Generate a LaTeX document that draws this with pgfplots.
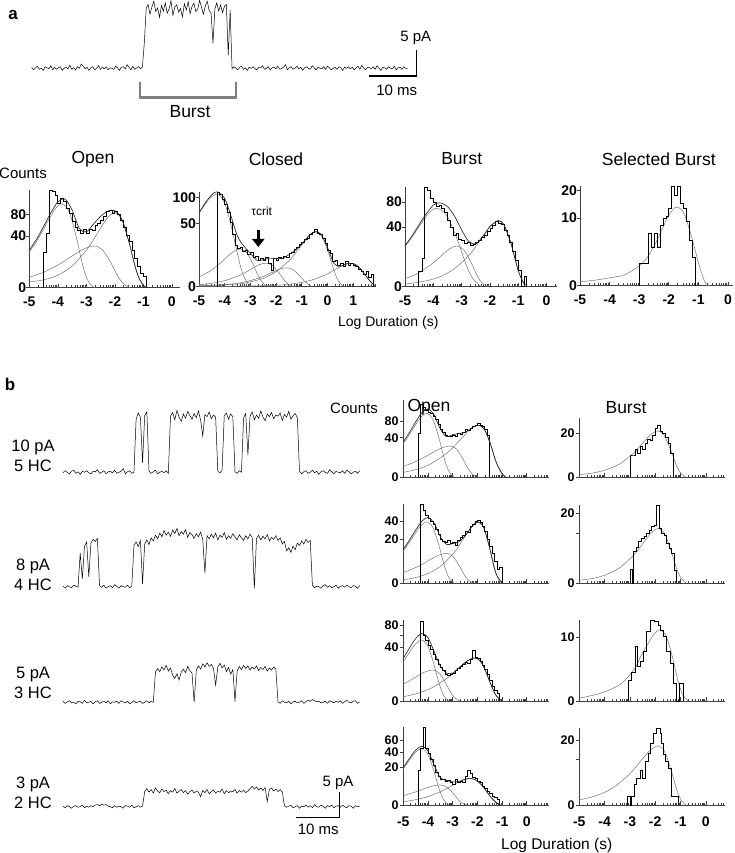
\documentclass[border=0pt]{standalone}
\usepackage{pgfplots}
\pgfplotsset{compat=1.18}
\usepackage{fontspec}
\setmainfont{Liberation Sans}
\usetikzlibrary{arrows.meta}
\newcommand\fs[1]{\fontsize{#1}{#1}\selectfont}
\pgfplotsset{
 hax/.style={scale only axis, axis lines=left, axis line style={-,black!75,line width=0.8pt},
  clip=false, ymin=0, xmin=-5,
  y coord trafo/.code={\pgfmathparse{sqrt(##1)}},
  y coord inv trafo/.code={\pgfmathparse{(##1)^2}},
  xtick={-5,-4,-3,-2,-1,0,1}, xticklabels={-5,-4,-3,-2,-1,0,1},
  minor xtick={-4.699,-4.523,-4.398,-4.301,-4.222,-4.155,-4.097,-4.046,-3.699,-3.523,-3.398,-3.301,-3.222,-3.155,-3.097,-3.046,-2.699,-2.523,-2.398,-2.301,-2.222,-2.155,-2.097,-2.046,-1.699,-1.523,-1.398,-1.301,-1.222,-1.155,-1.097,-1.046,-0.699,-0.523,-0.398,-0.301,-0.222,-0.155,-0.097,-0.046,0.301,0.477,0.602,0.699,0.778,0.845,0.903,0.954,1.301,1.477,1.602,1.699,1.778,1.845},
  xtick align=inside, ytick align=outside,
  major tick length=3.5pt, minor tick length=2.2pt,
  tick style={black!75,line width=0.6pt},
  ticklabel style={font=\fs{14}\bfseries},
  xticklabel style={yshift=-5.5pt}, yticklabel style={xshift=4pt},
  anchor=south west},
 bcol/.style={yticklabel style={font=\fs{12.5}\bfseries, inner sep=1pt, xshift=-4pt}},
 nolab/.style={xticklabels={,,,,,,}},
 fit/.style={smooth, black!55, line width=0.5pt},
 tot/.style={smooth, black!85, line width=0.65pt},
 hst/.style={const plot, black, line width=0.65pt},
 trc/.style={scale only axis, hide axis, clip=false, xmin=0, ymin=-2, anchor=south west},
}
\begin{document}
\begin{tikzpicture}[x=1pt,y=1pt]
\path[use as bounding box] (0,0) rectangle (734,853);

% ---------------- panel a trace
\begin{axis}[trc, at={(31.7pt,774.3pt)}, width=375.9pt, height=83.2pt, xmax=78.8, ymax=14]
\addplot[black, line width=0.5pt] table[header=false, row sep=\\, x expr=\coordindex*0.4, y index=0] {
0.2\\-0.3\\0.1\\0.4\\-0.2\\0.0\\-0.4\\0.3\\0.1\\-0.1\\0.5\\-0.3\\0.2\\-0.2\\0.1\\0.3\\-0.4\\0.0\\0.2\\-0.1\\0.6\\-0.2\\0.1\\-0.3\\0.3\\0.0\\0.8\\0.4\\-0.1\\0.2\\-0.4\\0.1\\0.3\\-0.3\\0.0\\0.5\\-0.2\\0.2\\-0.1\\0.3\\-0.3\\0.1\\0.0\\-0.2\\0.4\\0.1\\-0.4\\0.2\\0.3\\-0.1\\0.7\\0.2\\-0.3\\0.4\\-0.2\\0.1\\0.3\\-0.1\\0.2\\
4.8\\
11.5\\12.3\\10.4\\11.8\\12.9\\10.9\\11.6\\9.8\\12.1\\11.0\\12.6\\10.6\\11.4\\13.0\\10.2\\11.8\\12.2\\10.8\\11.5\\9.9\\12.4\\11.2\\12.8\\10.5\\11.9\\12.5\\10.9\\11.3\\13.1\\11.7\\10.4\\12.0\\12.9\\11.1\\10.6\\4.8\\11.4\\12.6\\11.0\\12.2\\10.7\\11.9\\12.3\\2.5\\11.2\\
-0.1\\0.3\\0.0\\-0.3\\0.2\\0.4\\-0.2\\0.1\\-0.4\\0.2\\0.0\\0.3\\-0.1\\-0.3\\0.2\\0.1\\0.5\\-0.2\\0.0\\0.3\\-0.3\\0.1\\0.2\\-0.1\\0.4\\-0.2\\0.0\\0.2\\0.7\\-0.3\\0.1\\0.3\\-0.2\\0.0\\0.4\\-0.1\\0.2\\-0.4\\0.1\\0.3\\0.0\\-0.2\\0.5\\0.1\\-0.3\\0.2\\0.0\\-0.1\\0.3\\-0.2\\0.4\\0.1\\-0.3\\0.0\\0.2\\-0.2\\0.3\\0.1\\-0.4\\0.2\\0.0\\0.3\\-0.1\\0.2\\-0.3\\0.1\\0.4\\-0.2\\0.6\\0.0\\-0.3\\0.2\\0.1\\-0.1\\0.3\\-0.2\\0.5\\0.0\\-0.4\\0.2\\0.1\\-0.2\\0.3\\0.0\\-0.1\\0.4\\-0.3\\0.1\\0.2\\-0.2\\0.3\\0.0\\-0.1\\
};
\end{axis}
\node[font=\fs{17}\bfseries] at (13,838) {a};
\draw[line width=1.2pt] (369,777) -- (416.7,777) -- (416.7,803);
\node[font=\fs{15}] at (415.8,814.7) {5 pA};
\node[font=\fs{15}] at (396.7,763) {10 ms};
\draw[black!50, line width=2.5pt] (140,771.3) -- (140,755.7) -- (236,755.7) -- (236,771.3);
\node[font=\fs{17.5}] at (190,741.3) {Burst};

% ---------------- panel a histograms
\node[font=\fs{17.5}] at (93,694) {Open};
\node[font=\fs{17.5}] at (276,694) {Closed};
\node[font=\fs{17.5}] at (461.7,694) {Burst};
\node[font=\fs{17.5}] at (658.8,694) {Selected Burst};
\node[font=\fs{15}] at (23,680) {Counts};
\node[font=\fs{14}] at (388.3,530.3) {Log Duration (s)};

\begin{axis}[hax, at={(29.3pt,565.3pt)}, width=150.8pt, height=97.7pt, xmax=0.29, ymax=142, ytick={0,40,80}, yticklabels={0,40,80}]
\addplot[fit] coordinates {(-5,18.9)(-4.85,25.8)(-4.6,42.5)(-4.35,65.7)(-4.1,91.5)(-3.85,105)(-3.6,85.8)(-3.35,38.2)(-3.225,17.7)(-3.1,5.8)(-2.975,1.2)(-2.85,0.13)(-2.7,0)};
\addplot[fit] coordinates {(-5,1.6)(-4.82,2.2)(-4.47,3.7)(-4.12,6.4)(-3.77,10.5)(-3.42,16.3)(-3.07,22.6)(-2.72,26)(-2.43,21.2)(-2.145,9.5)(-2.0,4.4)(-1.86,1.4)(-1.71,0.3)(-1.57,0.03)(-1.45,0)};
\addplot[fit] coordinates {(-5,0.5)(-4.5,0.9)(-4,2.3)(-3.5,7.0)(-3,20.7)(-2.75,34)(-2.5,52.6)(-2.25,73.2)(-2,84)(-1.75,68.6)(-1.5,30.6)(-1.375,14.2)(-1.25,4.6)(-1.125,0.95)(-1.0,0.1)(-0.9,0)};
\addplot[hst] coordinates {(-4.5,0)(-4.5,19)(-4.4,44)(-4.3,142)(-4.2,137)(-4.1,128)(-4.0,106)(-3.9,119)(-3.8,110)(-3.7,94)(-3.6,82)(-3.5,65)(-3.4,55)(-3.3,49.5)(-3.2,44)(-3.1,50.7)(-3.0,44)(-2.9,50)(-2.8,49)(-2.7,58)(-2.6,62)(-2.5,68)(-2.4,75)(-2.3,86)(-2.2,90)(-2.1,82)(-2.0,86)(-1.9,79)(-1.8,68)(-1.7,55)(-1.6,41)(-1.5,31.5)(-1.4,21)(-1.3,12.9)(-1.2,6.6)(-1.1,3.1)(-1.0,2)(-0.9,0)};
\addplot[tot] coordinates {(-5,21.0)(-4.75,34.6)(-4.5,55.7)(-4.25,82.9)(-4.0,109.2)(-3.75,116.9)(-3.5,90)(-3.25,52.7)(-3.0,46.3)(-2.75,60)(-2.5,75.7)(-2.25,87)(-2.0,88.4)(-1.75,69.1)(-1.5,30.6)(-1.375,14.2)(-1.25,4.6)(-1.125,0.95)(-1.0,0.1)(-0.9,0)};
\end{axis}

\begin{axis}[hax, at={(199pt,566.3pt)}, width=176pt, height=95pt, xmax=1.85, ymax=113.9, ytick={0,50,100}, yticklabels={0,50,100}]
\addplot[fit] coordinates {(-5,67.6)(-4.65,94)(-4.3,108)(-4.0,88.2)(-3.7,39.3)(-3.55,18.2)(-3.4,6.0)(-3.25,1.25)(-3.1,0.13)(-2.95,0)};
\addplot[fit] coordinates {(-5,1.2)(-4.65,2.6)(-4.4,4.4)(-4.15,7.3)(-3.9,11.3)(-3.65,15.7)(-3.4,18)(-3.15,14.7)(-2.9,6.6)(-2.775,3.0)(-2.65,1.0)(-2.525,0.2)(-2.4,0.02)(-2.3,0)};
\addplot[fit] coordinates {(-5,0.05)(-4.4,0.19)(-3.9,0.58)(-3.4,1.7)(-3.15,2.8)(-2.9,4.4)(-2.65,6.1)(-2.4,7)(-2.15,5.7)(-1.9,2.5)(-1.775,1.2)(-1.65,0.39)(-1.525,0.08)(-1.4,0.01)(-1.3,0)};
\addplot[fit] coordinates {(-5,0.01)(-4.1,0.04)(-3.6,0.12)(-3.1,0.37)(-2.6,1.1)(-2.35,1.8)(-2.1,2.8)(-1.85,3.9)(-1.6,4.5)(-1.35,3.7)(-1.1,1.6)(-0.975,0.76)(-0.85,0.25)(-0.725,0.05)(-0.6,0)};
\addplot[fit] coordinates {(-5,0.01)(-3.45,0.1)(-2.95,0.33)(-2.45,1.0)(-1.95,3.2)(-1.45,9.3)(-1.2,15.4)(-0.95,23.8)(-0.7,33.1)(-0.45,38)(-0.2,31)(0.05,13.8)(0.175,6.4)(0.3,2.1)(0.425,0.43)(0.55,0.05)(0.65,0)};
\addplot[fit] coordinates {(-5,0)(-2.1,0.02)(-1.1,0.19)(-0.6,0.58)(-0.1,1.7)(0.15,2.8)(0.4,4.4)(0.65,6.1)(0.9,7)(1.15,5.7)(1.4,2.5)(1.525,1.2)(1.65,0.39)(1.775,0.08)(1.85,0.02)};
\addplot[hst] coordinates {(-4.3,0)(-4.3,113)(-4.2,108)(-4.1,96)(-4.0,85)(-3.9,70)(-3.8,52)(-3.7,35)(-3.6,22)(-3.5,19)(-3.4,20)(-3.3,16)(-3.2,17)(-3.1,13)(-3.0,15)(-2.9,11)(-2.8,12)(-2.7,9)(-2.6,10)(-2.5,8.5)(-2.4,11)(-2.3,7)(-2.2,3.5)(-2.1,10)(-2.0,9)(-1.9,11)(-1.8,10)(-1.7,12)(-1.6,11)(-1.5,14)(-1.4,15)(-1.3,18)(-1.2,20)(-1.1,23)(-1.0,25)(-0.9,28)(-0.8,30)(-0.7,35)(-0.6,37)(-0.5,41)(-0.4,36)(-0.3,34)(-0.2,30)(-0.1,24)(0.0,17)(0.1,14)(0.2,8)(0.3,9)(0.4,6)(0.5,7)(0.6,5)(0.7,8)(0.8,6)(0.9,7)(1.0,6)(1.1,5)(1.2,4)(1.3,3)(1.4,2)(1.5,3)(1.6,1)(1.7,2)(1.8,0)};
\addplot[tot] coordinates {(-5,68.9)(-4.75,89.1)(-4.5,106.8)(-4.3,113.6)(-4.0,98.3)(-3.75,62.2)(-3.5,32.1)(-3.25,20.6)(-3.0,14.2)(-2.75,8.8)(-2.5,9.2)(-2.25,10.3)(-2.0,10)(-1.75,10.2)(-1.5,12.9)(-1.25,16.9)(-1.0,22.9)(-0.75,31.9)(-0.5,38.3)(-0.25,34.9)(0,19.6)(0.25,6.8)(0.5,5.2)(0.75,6.6)(1.0,6.8)(1.25,4.5)(1.5,1.4)(1.75,0.13)(1.85,0.02)};
\end{axis}
\node[font=\fs{12}] at (261.7,641.3) {τcrit};
\draw[-{Triangle[width=12pt,length=8pt]}, line width=3.5pt] (258.3,623) -- (258.3,606);

\begin{axis}[hax, at={(405pt,566.3pt)}, width=151.7pt, height=99.4pt, xmax=0.36, ymax=110.6, ytick={0,40,80}, yticklabels={0,40,80}]
\addplot[fit] coordinates {(-5,17.9)(-4.74,28)(-4.455,43.2)(-4.17,60.1)(-3.88,69)(-3.52,56.4)(-3.155,25.1)(-2.97,11.7)(-2.79,3.8)(-2.61,0.78)(-2.43,0.08)(-2.3,0)};
\addplot[fit] coordinates {(-5,0.72)(-4.67,1.5)(-4.42,2.7)(-4.17,4.6)(-3.92,7.5)(-3.67,11.6)(-3.42,16.1)(-3.17,18.5)(-2.92,15.1)(-2.67,6.7)(-2.545,3.1)(-2.42,1.0)(-2.295,0.2)(-2.17,0.02)(-2.05,0)};
\addplot[fit] coordinates {(-5,0.07)(-4.2,0.42)(-3.7,1.3)(-3.2,4.1)(-2.7,12)(-2.45,19.8)(-2.2,30.5)(-1.95,42.5)(-1.7,48.8)(-1.46,39.9)(-1.225,17.8)(-1.11,8.2)(-0.99,2.7)(-0.87,0.55)(-0.75,0.06)(-0.65,0)};
\addplot[hst] coordinates {(-4.53,0)(-4.53,2.5)(-4.4,9)(-4.3,110)(-4.2,105)(-4.1,88)(-4.0,80)(-3.9,72)(-3.8,74)(-3.7,68)(-3.6,62)(-3.5,50)(-3.4,40)(-3.3,30)(-3.2,32)(-3.1,25)(-3.0,24)(-2.9,21)(-2.8,22)(-2.7,19)(-2.6,20)(-2.5,22)(-2.4,24)(-2.3,27)(-2.2,30)(-2.1,34)(-2.0,38)(-1.9,42)(-1.8,48)(-1.7,45)(-1.6,44)(-1.5,36)(-1.4,30)(-1.3,22)(-1.2,14)(-1.1,8)(-1.0,3)(-0.9,0)(-0.8,1.1)(-0.7,0)};
\addplot[tot] coordinates {(-5,18.7)(-4.75,29)(-4.5,43.2)(-4.25,59.6)(-4.0,74.5)(-3.88,78)(-3.75,78.7)(-3.5,72.1)(-3.25,55.6)(-3.0,36.2)(-2.75,22.9)(-2.5,20.5)(-2.25,28.4)(-2.0,40.3)(-1.7,48.8)(-1.5,42.5)(-1.25,20.5)(-1.0,2.9)(-0.85,0.4)(-0.75,0)};
\end{axis}

\begin{axis}[hax, at={(580pt,567.3pt)}, width=153pt, height=99.7pt, xmax=0.17, ymax=21.8, ytick={0,10,20}, yticklabels={0,10,20}]
\addplot[fit] coordinates {(-5,0.034)(-4.5,0.066)(-4,0.135)(-3.5,0.26)(-3,0.84)(-2.75,1.65)(-2.5,3.4)(-2.25,6.6)(-2.0,10.9)(-1.75,13.5)(-1.5,11.7)(-1.25,5.7)(-1.0,1.2)(-0.85,0.19)(-0.75,0.012)(-0.6,0)};
\addplot[hst] coordinates {(-3.0,0)(-3.0,1.1)(-2.7,6)(-2.6,3.3)(-2.5,6)(-2.4,3.3)(-2.3,8)(-2.2,10)(-2.1,10.5)(-2.0,13)(-1.9,21.5)(-1.8,18)(-1.7,21.5)(-1.6,15)(-1.5,13)(-1.4,9)(-1.3,4.5)(-1.2,1.8)(-1.1,0)};
\end{axis}

% ---------------- panel b traces
\node[font=\fs{17}\bfseries] at (10,469) {b};
\node[font=\fs{15}] at (354,445) {Counts};
\node[font=\fs{17.5}] at (429,446) {Open};
\node[font=\fs{17.5}] at (626,445) {Burst};
\node[font=\fontsize{16.5}{20}\selectfont, align=center] at (33,397) {10 pA\\5 HC};
\node[font=\fontsize{16.5}{20}\selectfont, align=center] at (33,278.5) {8 pA\\4 HC};
\node[font=\fontsize{16.5}{20}\selectfont, align=center] at (33,169.7) {5 pA\\3 HC};
\node[font=\fontsize{16.5}{20}\selectfont, align=center] at (33,59.7) {3 pA\\2 HC};

\begin{axis}[trc, at={(63pt,370.3pt)}, width=296.7pt, height=72.8pt, xmax=69, ymax=12]
\addplot[black, line width=0.5pt] table[header=false, row sep=\\, x expr=\coordindex*0.5, y index=0] {
-0.1\\0.3\\0.0\\-0.3\\0.2\\0.4\\-0.2\\0.1\\-0.4\\0.2\\0.0\\0.3\\-0.1\\-0.3\\0.2\\0.1\\0.5\\-0.2\\0.0\\0.3\\-0.3\\0.1\\0.2\\-0.1\\0.4\\-0.2\\0.0\\0.2\\0.7\\-0.3\\0.1\\0.3\\-0.2\\0.0\\
10.2\\11.4\\10.6\\1.8\\10.9\\11.6\\
0.3\\-0.2\\0.1\\0.4\\-0.3\\0.0\\0.2\\-0.1\\0.3\\-0.2\\
10.8\\11.5\\10.1\\11.9\\10.6\\9.8\\11.2\\10.4\\11.7\\10.9\\10.2\\11.3\\10.5\\11.8\\10.0\\7.0\\11.1\\10.7\\11.6\\10.3\\11.0\\10.6\\
0.2\\-0.1\\0.4\\
10.9\\11.4\\10.2\\11.2\\10.7\\
0.1\\-0.2\\0.3\\0.0\\
10.5\\11.3\\3.3\\10.8\\11.6\\10.1\\11.0\\10.4\\11.8\\10.6\\9.9\\11.2\\10.7\\11.5\\10.3\\11.0\\10.8\\11.4\\10.0\\11.1\\10.6\\11.7\\10.2\\10.9\\11.3\\10.5\\
0.2\\-0.3\\0.1\\0.3\\-0.2\\0.0\\0.4\\-0.1\\0.2\\-0.4\\0.1\\0.3\\0.0\\-0.2\\0.5\\0.1\\-0.3\\0.2\\0.0\\-0.1\\0.3\\-0.2\\0.4\\0.1\\-0.3\\0.0\\0.2\\-0.2\\0.3\\
};
\end{axis}

\begin{axis}[trc, at={(63pt,255.9pt)}, width=296.7pt, height=72.8pt, xmax=69, ymax=12]
\addplot[black, line width=0.5pt] table[header=false, row sep=\\, x expr=\coordindex*0.5, y index=0] {
0.1\\-0.3\\0.2\\0.0\\-0.2\\0.3\\0.1\\-0.1\\
6.5\\1.5\\7.8\\8.6\\1.9\\8.4\\9.1\\8.7\\9.3\\
0.2\\-0.1\\0.3\\-0.3\\0.0\\0.2\\-0.2\\0.4\\0.1\\-0.3\\0.2\\0.0\\-0.1\\0.3\\-0.2\\0.1\\
8.0\\8.6\\7.7\\8.9\\0.5\\8.2\\9.0\\8.1\\9.4\\8.8\\
9.9\\9.2\\10.3\\9.6\\10.8\\9.9\\10.5\\9.7\\10.9\\10.2\\
11.2\\9.8\\10.6\\10.1\\11.0\\9.5\\10.4\\10.0\\9.3\\10.2\\
9.6\\10.5\\9.1\\2.6\\9.8\\9.2\\10.1\\9.4\\10.3\\9.0\\
9.9\\9.5\\10.4\\9.1\\9.8\\9.3\\10.2\\9.6\\9.0\\10.0\\
9.4\\8.9\\9.8\\9.2\\10.1\\9.5\\-0.3\\9.3\\9.9\\9.0\\
9.7\\9.2\\10.0\\8.8\\9.5\\9.1\\9.8\\8.9\\9.4\\8.2\\
8.7\\6.9\\7.5\\6.6\\7.8\\7.1\\8.4\\7.9\\8.8\\8.2\\
9.1\\8.5\\8.9\\
0.3\\-0.2\\0.1\\0.0\\-0.3\\0.2\\0.4\\-0.1\\0.2\\-0.2\\0.0\\0.3\\-0.3\\0.1\\0.2\\-0.1\\0.3\\0.0\\-0.2\\0.2\\0.1\\-0.3\\0.2\\
};
\end{axis}

\begin{axis}[trc, at={(63pt,140.3pt)}, width=296.7pt, height=72.8pt, xmax=69, ymax=12]
\addplot[black, line width=0.5pt] table[header=false, row sep=\\, x expr=\coordindex*0.5, y index=0] {
0.2\\-0.2\\0.1\\0.3\\-0.1\\0.0\\-0.3\\0.2\\0.1\\-0.2\\0.4\\-0.1\\0.0\\0.2\\-0.3\\0.1\\0.3\\-0.2\\0.0\\0.2\\-0.1\\0.3\\-0.3\\0.1\\0.0\\0.2\\-0.2\\0.3\\0.1\\-0.1\\0.2\\-0.3\\0.0\\0.3\\-0.1\\0.1\\0.2\\-0.2\\0.0\\0.3\\-0.1\\0.2\\0.0\\
5.8\\6.5\\5.9\\6.8\\6.2\\7.1\\6.0\\6.6\\5.2\\4.6\\
5.5\\4.3\\5.8\\6.4\\5.7\\6.9\\6.1\\5.6\\0.0\\6.2\\
7.0\\6.4\\7.4\\6.8\\7.6\\6.9\\7.3\\6.5\\3.3\\6.8\\
7.5\\6.6\\7.2\\5.9\\6.7\\5.4\\6.3\\0.2\\6.0\\6.9\\
6.3\\7.1\\6.5\\7.0\\6.2\\6.8\\6.4\\7.0\\6.1\\6.7\\
6.3\\6.9\\6.0\\6.6\\6.2\\6.8\\6.4\\
0.1\\-0.2\\0.3\\0.0\\-0.1\\0.2\\-0.3\\0.1\\0.2\\-0.1\\0.0\\0.3\\-0.2\\0.1\\0.4\\0.2\\0.5\\0.3\\0.1\\0.2\\-0.1\\0.0\\0.2\\-0.2\\0.3\\0.1\\-0.1\\0.2\\0.0\\0.3\\-0.2\\0.1\\0.4\\0.0\\-0.1\\0.2\\0.3\\-0.2\\0.1\\
};
\end{axis}

\begin{axis}[trc, at={(63pt,35.9pt)}, width=296.7pt, height=72.8pt, xmax=69, ymax=12]
\addplot[black, line width=0.5pt] table[header=false, row sep=\\, x expr=\coordindex*0.5, y index=0] {
0.1\\-0.2\\0.2\\0.0\\-0.3\\0.1\\0.2\\-0.1\\0.0\\0.3\\-0.2\\0.1\\-0.1\\0.2\\0.0\\0.3\\0.4\\0.2\\0.5\\0.3\\0.4\\0.1\\0.0\\-0.2\\0.2\\-0.1\\0.1\\0.0\\-0.3\\0.2\\0.1\\-0.1\\0.3\\-0.2\\0.0\\0.2\\-0.1\\0.1\\
2.9\\3.5\\2.8\\3.3\\2.6\\3.6\\3.0\\2.7\\3.4\\2.9\\
3.2\\2.5\\3.1\\2.8\\3.5\\2.6\\3.0\\3.3\\2.7\\3.1\\
2.4\\2.9\\3.2\\2.6\\3.0\\2.8\\1.9\\3.1\\2.7\\3.3\\
2.5\\2.9\\3.2\\2.6\\3.0\\2.8\\3.4\\2.5\\3.1\\2.7\\
3.0\\2.9\\3.3\\2.6\\3.1\\2.8\\3.2\\2.7\\3.0\\3.5\\
3.9\\3.4\\3.8\\3.2\\3.6\\3.1\\3.7\\1.0\\3.3\\3.6\\
3.0\\3.4\\2.9\\3.3\\2.8\\
0.2\\-0.1\\0.1\\0.3\\-0.2\\0.0\\0.2\\-0.3\\0.1\\0.0\\0.3\\-0.1\\0.2\\-0.2\\0.4\\0.0\\-0.1\\0.3\\0.1\\-0.3\\0.2\\0.0\\0.3\\-0.2\\0.1\\0.2\\-0.1\\0.3\\0.0\\-0.2\\0.2\\0.1\\-0.3\\0.2\\0.0\\0.1\\
};
\end{axis}
\draw[line width=1pt] (296,35.7) -- (339.3,35.7) -- (339.3,61.3);
\node[font=\fs{15}] at (338,69.7) {5 pA};
\node[font=\fs{15}] at (318.3,23.7) {10 ms};

% ---------------- panel b histograms: Open column
\begin{axis}[hax, bcol, nolab, at={(403.3pt,376pt)}, width=145.7pt, height=77pt, xmax=0.9, ymax=154, ytick={0,40,80}, yticklabels={0,40,80}]
\addplot[fit] coordinates {(-5,28.7)(-4.8,42.5)(-4.55,65.7)(-4.3,91.5)(-4.05,105)(-3.8,85.8)(-3.55,38.2)(-3.425,17.7)(-3.3,5.8)(-3.175,1.2)(-3.05,0.13)(-2.95,0)};
\addplot[fit] coordinates {(-5,2.8)(-4.5,6.2)(-4.15,10.1)(-3.8,15.7)(-3.45,21.8)(-3.1,25)(-2.85,20.4)(-2.6,9.1)(-2.475,4.2)(-2.35,1.4)(-2.225,0.28)(-2.1,0.03)(-2.0,0)};
\addplot[fit] coordinates {(-5,0.56)(-4.5,1.4)(-4.0,3.6)(-3.5,9.5)(-3.15,17.2)(-2.85,28.4)(-2.55,43.8)(-2.25,61)(-1.95,70)(-1.7,57.2)(-1.45,25.5)(-1.325,11.8)(-1.2,3.9)(-1.075,0.8)(-0.95,0.09)(-0.85,0)};
\addplot[hst] coordinates {(-4.4,0)(-4.4,50)(-4.3,139)(-4.2,125)(-4.1,118)(-4.0,110)(-3.9,104)(-3.8,95)(-3.7,85)(-3.6,72)(-3.5,60)(-3.4,52)(-3.3,45)(-3.2,43)(-3.1,42)(-3.0,46)(-2.9,44)(-2.8,50)(-2.7,48)(-2.6,52)(-2.5,58)(-2.4,56)(-2.3,62)(-2.2,66)(-2.1,70)(-2.0,74)(-1.9,70)(-1.8,66)(-1.7,58)(-1.6,45)(-1.5,0)};
\addplot[tot] coordinates {(-5,32.1)(-4.75,51.7)(-4.5,78.7)(-4.25,106.9)(-4.0,120.1)(-3.75,100)(-3.5,59.8)(-3.25,42)(-3.0,46.7)(-2.75,49.2)(-2.5,51.9)(-2.25,61.5)(-2.0,69.7)(-1.75,61.8)(-1.5,32.2)(-1.25,6.3)(-1.0,0.3)(-0.85,0)};
\end{axis}

\begin{axis}[hax, bcol, nolab, at={(403.3pt,270pt)}, width=145.7pt, height=79pt, xmax=0.9, ymax=65, ytick={0,20,40}, yticklabels={0,20,40}]
\addplot[fit] coordinates {(-5,10.6)(-4.8,15.8)(-4.55,24.4)(-4.3,34)(-4.05,39)(-3.8,31.9)(-3.55,14.2)(-3.425,6.6)(-3.3,2.1)(-3.175,0.44)(-3.05,0.05)(-2.95,0)};
\addplot[fit] coordinates {(-5,1.1)(-4.55,2.3)(-4.225,3.7)(-3.9,5.8)(-3.575,8.0)(-3.25,9.2)(-3.0,7.5)(-2.75,3.3)(-2.625,1.6)(-2.5,0.5)(-2.375,0.1)(-2.25,0.01)(-2.15,0)};
\addplot[fit] coordinates {(-5,0.1)(-4.45,0.34)(-3.95,1.05)(-3.45,3.2)(-2.95,9.6)(-2.7,15.8)(-2.45,24.4)(-2.2,34)(-1.95,39)(-1.74,31.9)(-1.525,14.2)(-1.42,6.6)(-1.31,2.1)(-1.2,0.44)(-1.1,0.05)(-1.0,0)};
\addplot[hst] coordinates {(-4.3,0)(-4.3,64)(-4.2,55)(-4.1,48)(-4.0,44)(-3.9,40)(-3.8,36)(-3.7,30)(-3.6,25)(-3.5,20)(-3.4,18)(-3.3,17)(-3.2,19)(-3.1,16)(-3.0,17)(-2.9,15)(-2.8,19)(-2.7,22)(-2.6,24)(-2.5,28)(-2.4,27)(-2.3,33)(-2.2,36)(-2.1,40)(-2.0,41)(-1.9,38)(-1.8,33)(-1.7,28)(-1.6,20)(-1.5,14)(-1.4,9)(-1.3,5)(-1.2,2)(-1.1,2.5)(-1.0,0)};
\addplot[tot] coordinates {(-5,11.8)(-4.75,19.2)(-4.5,29.2)(-4.25,39.7)(-4.0,44.7)(-3.75,37.4)(-3.5,22.3)(-3.25,15.5)(-3.0,16.2)(-2.75,17.7)(-2.5,23.1)(-2.25,32.2)(-2.0,38.6)(-1.75,32.4)(-1.5,12.5)(-1.25,1.0)(-1.0,0)};
\end{axis}

\begin{axis}[hax, bcol, nolab, at={(403.3pt,152pt)}, width=145.7pt, height=81pt, xmax=0.9, ymax=91.9, ytick={0,40,60,80}, yticklabels={0,40,,80}]
\addplot[fit] coordinates {(-5,21.3)(-4.76,32.6)(-4.51,45.3)(-4.26,52)(-4.01,42.5)(-3.76,18.9)(-3.635,8.8)(-3.51,2.9)(-3.385,0.6)(-3.26,0.06)(-3.15,0)};
\addplot[fit] coordinates {(-5,3.9)(-4.775,5.5)(-4.45,8.5)(-4.125,11.8)(-3.8,13.5)(-3.55,11)(-3.3,4.9)(-3.175,2.3)(-3.05,0.74)(-2.925,0.15)(-2.8,0.02)(-2.7,0)};
\addplot[fit] coordinates {(-5,0.26)(-4.5,0.7)(-3.9,2.2)(-3.3,6.4)(-3.0,10.5)(-2.7,16.3)(-2.4,22.6)(-2.1,26)(-1.85,21.2)(-1.6,9.5)(-1.475,4.4)(-1.35,1.4)(-1.225,0.3)(-1.1,0.03)(-1.0,0)};
\addplot[hst] coordinates {(-4.3,0)(-4.3,90)(-4.2,61)(-4.1,52)(-4.0,44)(-3.9,38)(-3.8,30)(-3.7,24)(-3.6,19)(-3.5,16)(-3.4,13)(-3.3,10)(-3.2,9)(-3.1,10)(-3.0,11)(-2.9,13)(-2.8,15)(-2.7,17)(-2.6,19)(-2.5,21)(-2.4,20)(-2.3,24)(-2.2,36)(-2.1,27)(-2.0,25)(-1.9,22)(-1.8,18)(-1.7,14)(-1.6,10)(-1.5,6)(-1.4,3)(-1.3,1.5)(-1.2,0.8)(-1.1,0)};
\addplot[tot] coordinates {(-5,25.5)(-4.75,39.4)(-4.5,54.5)(-4.25,63.7)(-4.0,56.2)(-3.75,34.2)(-3.5,17)(-3.25,10.9)(-3.0,10.9)(-2.75,15.3)(-2.5,20.8)(-2.25,25)(-2.0,25.3)(-1.75,16.9)(-1.5,5.2)(-1.25,0.5)(-1.0,0)};
\end{axis}

\begin{axis}[hax, bcol, at={(403.3pt,48pt)}, width=145.7pt, height=78.3pt, xmax=0.9, ymax=86.9, ytick={0,20,40,60}, yticklabels={0,20,40,60}, xticklabel style={yshift=-2.5pt}]
\addplot[fit] coordinates {(-5,18.5)(-4.76,28.2)(-4.51,39.2)(-4.26,45)(-4.01,36.8)(-3.76,16.4)(-3.635,7.6)(-3.51,2.5)(-3.385,0.5)(-3.26,0.06)(-3.15,0)};
\addplot[fit] coordinates {(-5,1.2)(-4.55,2.3)(-4.2,3.6)(-3.85,5.0)(-3.5,5.7)(-3.25,4.7)(-3.0,2.1)(-2.875,0.96)(-2.75,0.3)(-2.625,0.06)(-2.5,0.01)(-2.4,0)};
\addplot[fit] coordinates {(-5,0.15)(-4.7,0.27)(-4.1,0.83)(-3.5,2.5)(-3.2,4.05)(-2.9,6.3)(-2.6,8.7)(-2.3,10)(-2.0,8.2)(-1.7,3.6)(-1.55,1.7)(-1.4,0.55)(-1.25,0.12)(-1.1,0.01)(-1.0,0)};
\addplot[hst] coordinates {(-4.4,0)(-4.4,17)(-4.3,45)(-4.2,85)(-4.1,45)(-4.0,38)(-3.9,30)(-3.8,22)(-3.7,15)(-3.6,12)(-3.5,9)(-3.4,9.5)(-3.3,8)(-3.2,8.5)(-3.1,7)(-3.0,6)(-2.9,9)(-2.8,7)(-2.7,8)(-2.6,7)(-2.5,12)(-2.4,17)(-2.3,14)(-2.2,11)(-2.1,10)(-2.0,8)(-1.9,7)(-1.8,5)(-1.7,4)(-1.6,2.5)(-1.5,2)(-1.4,1)(-1.3,0.8)(-1.2,0.5)(-1.1,0)};
\addplot[tot] coordinates {(-5,19.9)(-4.75,30.8)(-4.5,42.6)(-4.25,49)(-4.0,41.4)(-3.75,22.4)(-3.5,10.5)(-3.25,8.5)(-3.0,7.6)(-2.75,7.8)(-2.5,9.4)(-2.25,9.9)(-2.0,8.2)(-1.75,4.4)(-1.5,1.2)(-1.25,0.1)(-1.1,0)};
\end{axis}

% ---------------- panel b histograms: Burst column
\begin{axis}[hax, bcol, nolab, at={(579.3pt,376pt)}, width=145.5pt, height=59pt, xmax=0.75, ymax=36, ytick={0,20}, yticklabels={0,20}]
\addplot[fit] coordinates {(-5,0.05)(-4.4,0.19)(-3.9,0.59)(-3.4,1.8)(-2.9,5.4)(-2.65,8.9)(-2.4,13.8)(-2.15,19.2)(-1.9,22)(-1.65,18)(-1.4,8)(-1.275,3.7)(-1.15,1.2)(-1.025,0.25)(-0.9,0.03)(-0.8,0)};
\addplot[hst] coordinates {(-3.0,0)(-3.0,5)(-2.9,5)(-2.8,8)(-2.7,6)(-2.6,10)(-2.5,8)(-2.4,12)(-2.3,15)(-2.2,14)(-2.1,18)(-2.0,25)(-1.9,28)(-1.8,22)(-1.7,20)(-1.6,16)(-1.5,12)(-1.4,6)(-1.3,0)};
\end{axis}

\begin{axis}[hax, bcol, nolab, at={(579.3pt,270pt)}, width=145.5pt, height=78pt, xmax=0.75, ymax=24.7, ytick={0,10,20}, yticklabels={0,,20}]
\addplot[fit] coordinates {(-5,0.03)(-4.38,0.1)(-3.88,0.33)(-3.38,1.0)(-2.88,3.0)(-2.63,4.9)(-2.38,7.6)(-2.13,10.5)(-1.88,12.1)(-1.63,9.9)(-1.38,4.4)(-1.255,2.0)(-1.13,0.67)(-1.005,0.14)(-0.88,0.02)(-0.78,0)};
\addplot[hst] coordinates {(-3.0,0)(-3.0,0.8)(-2.9,0)(-2.85,4)(-2.75,5.3)(-2.65,7)(-2.55,8)(-2.45,9)(-2.35,10)(-2.25,11.4)(-2.15,12.9)(-2.05,13.5)(-1.95,24.5)(-1.85,12)(-1.75,10)(-1.65,9.3)(-1.55,6.4)(-1.45,5)(-1.35,3.6)(-1.25,0.7)(-1.18,0)};
\end{axis}

\begin{axis}[hax, bcol, nolab, at={(579.3pt,152pt)}, width=145.5pt, height=81pt, xmax=0.75, ymax=16.2, ytick={0,10}, yticklabels={0,10}]
\addplot[fit] coordinates {(-5,0.02)(-4.31,0.11)(-3.81,0.3)(-3.31,0.8)(-2.81,2.6)(-2.56,5.1)(-2.31,7.8)(-2.06,10.9)(-1.81,12.5)(-1.56,10.2)(-1.31,4.6)(-1.185,2.1)(-1.06,0.69)(-0.935,0.14)(-0.81,0.02)(-0.7,0)};
\addplot[hst] coordinates {(-3.05,0)(-3.05,1.1)(-2.95,2.0)(-2.8,7.3)(-2.71,2.9)(-2.6,3.8)(-2.47,6)(-2.34,11.9)(-2.21,16.2)(-2.05,15.5)(-1.88,14.3)(-1.78,12.5)(-1.68,10.2)(-1.55,6)(-1.42,3.5)(-1.28,0.8)(-1.18,0)(-1.05,0.8)(-0.9,0)};
\end{axis}

\begin{axis}[hax, bcol, at={(579.3pt,48pt)}, width=145.5pt, height=77pt, xmax=0.75, ymax=28.2, ytick={0,10,20}, yticklabels={0,,20}, xticklabel style={yshift=-2.5pt}]
\addplot[fit] coordinates {(-5,0.12)(-4.28,0.45)(-3.68,1.38)(-3.08,4.1)(-2.78,6.7)(-2.48,10.4)(-2.18,14.5)(-1.88,16.6)(-1.63,13.6)(-1.38,6.0)(-1.255,2.8)(-1.13,0.9)(-1.005,0.19)(-0.88,0.02)(-0.78,0)};
\addplot[hst] coordinates {(-3.1,0)(-3.1,0.33)(-3.0,0)(-2.93,0.33)(-2.83,2)(-2.73,3.4)(-2.6,5.8)(-2.49,3.4)(-2.4,8.9)(-2.27,12.7)(-2.21,18.1)(-2.08,24.5)(-1.97,28)(-1.81,24.5)(-1.74,18.1)(-1.68,12)(-1.61,9)(-1.48,6.4)(-1.38,0.39)(-1.09,0)};
\end{axis}
\node[font=\fs{15.5}] at (556.7,8) {Log Duration (s)};
\end{tikzpicture}
\end{document}
